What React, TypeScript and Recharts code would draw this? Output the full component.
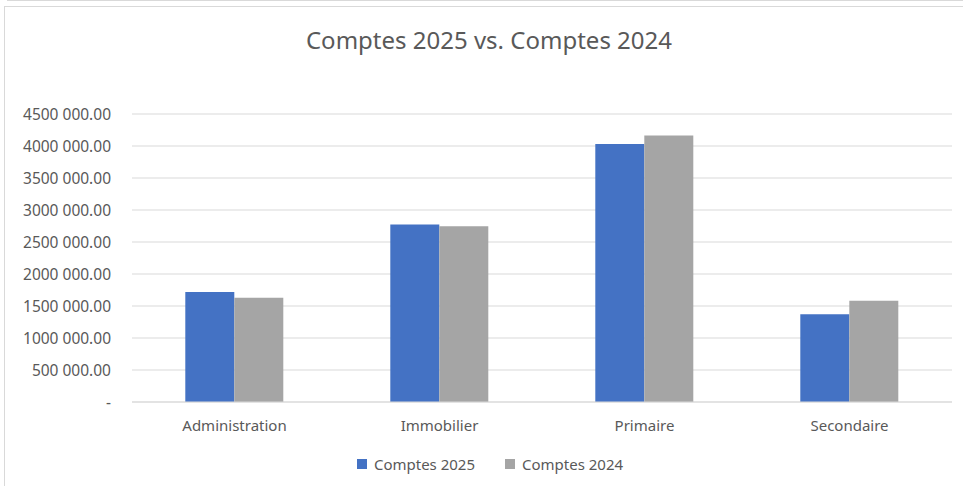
import React from 'react';
import { BarChart, Bar, XAxis, YAxis, CartesianGrid, Legend } from 'recharts';

const categories = ['Administration', 'Immobilier', 'Primaire', 'Secondaire'];
const comptes2025 = [1717000, 2775000, 4030000, 1373000];
const comptes2024 = [1628000, 2746000, 4165000, 1581000];
const yTicks = [0, 500000, 1000000, 1500000, 2000000, 2500000, 3000000, 3500000, 4000000, 4500000];

const BLUE = '#4472C4';
const GRAY = '#A5A5A5';
const TEXT = '#595959';
const GRID = '#D9D9D9';
const FONT = '"Noto Sans", sans-serif';

const series = [
  { key: 'c2025', name: 'Comptes 2025', color: BLUE },
  { key: 'c2024', name: 'Comptes 2024', color: GRAY },
];

const data = categories.map((name, i) => ({
  name,
  c2025: comptes2025[i],
  c2024: comptes2024[i],
}));

// Excel-ish "4500 000.00", zero shown as "-"
function formatTick(v: number) {
  if (v === 0) return '-';
  const thousands = Math.floor(v / 1000);
  const rest = String(v % 1000).padStart(3, '0');
  return `${thousands} ${rest}.00`;
}

// recharts sorts legend items by name, so keep series order by hand
function LegendContent() {
  return (
    <div
      style={{
        display: 'flex',
        justifyContent: 'center',
        alignItems: 'center',
        height: 24,
        fontFamily: FONT,
        fontSize: 15,
        color: TEXT,
      }}
    >
      {series.map((s, i) => (
        <div key={s.key} style={{ display: 'flex', alignItems: 'center', marginLeft: i === 0 ? 0 : 30 }}>
          <span style={{ width: 10, height: 10, background: s.color, display: 'inline-block', marginRight: 7 }} />
          <span>{s.name}</span>
        </div>
      ))}
    </div>
  );
}

export default function App() {
  return (
    <div
      style={{
        position: 'absolute',
        left: 0,
        top: 0,
        width: 963,
        height: 486,
        background: '#fff',
        overflow: 'hidden',
      }}
    >
      <div style={{ position: 'absolute', left: 7, top: 0, width: 1000, height: 0, borderTop: `1px solid ${GRID}` }} />
      <div
        style={{
          position: 'absolute',
          left: 4,
          top: 6,
          width: 1000,
          height: 600,
          border: `1.5px solid ${GRID}`,
        }}
      />
      <div
        style={{
          position: 'absolute',
          left: 4,
          top: 24,
          width: 970,
          textAlign: 'center',
          fontFamily: FONT,
          fontSize: 24,
          lineHeight: '32px',
          color: TEXT,
        }}
      >
        Comptes 2025 vs. Comptes 2024
      </div>
      <div style={{ position: 'absolute', left: 0, top: 0 }}>
        <BarChart
          width={963}
          height={486}
          data={data}
          margin={{ top: 114, right: 11, left: 0, bottom: 10 }}
          barCategoryGap="26%"
          barGap={0}
        >
          <CartesianGrid vertical={false} stroke={GRID} strokeWidth={1.2} />
          <XAxis
            dataKey="name"
            height={50}
            tickLine={false}
            tickSize={0}
            tickMargin={18}
            axisLine={{ stroke: GRID, strokeWidth: 1.2 }}
            tick={{ fontSize: 15, fill: TEXT, fontFamily: FONT }}
          />
          <YAxis
            width={132}
            domain={[0, 4500000]}
            ticks={yTicks}
            interval={0}
            tickFormatter={formatTick}
            tickLine={false}
            axisLine={false}
            tickSize={0}
            tickMargin={21}
            tick={{ fontSize: 15.5, fill: TEXT, fontFamily: FONT }}
          />
          <Legend
            verticalAlign="bottom"
            content={<LegendContent />}
            wrapperStyle={{ left: 0, width: 980 }}
          />
          {series.map((s) => (
            <Bar key={s.key} dataKey={s.key} name={s.name} fill={s.color} isAnimationActive={false} />
          ))}
        </BarChart>
      </div>
    </div>
  );
}
